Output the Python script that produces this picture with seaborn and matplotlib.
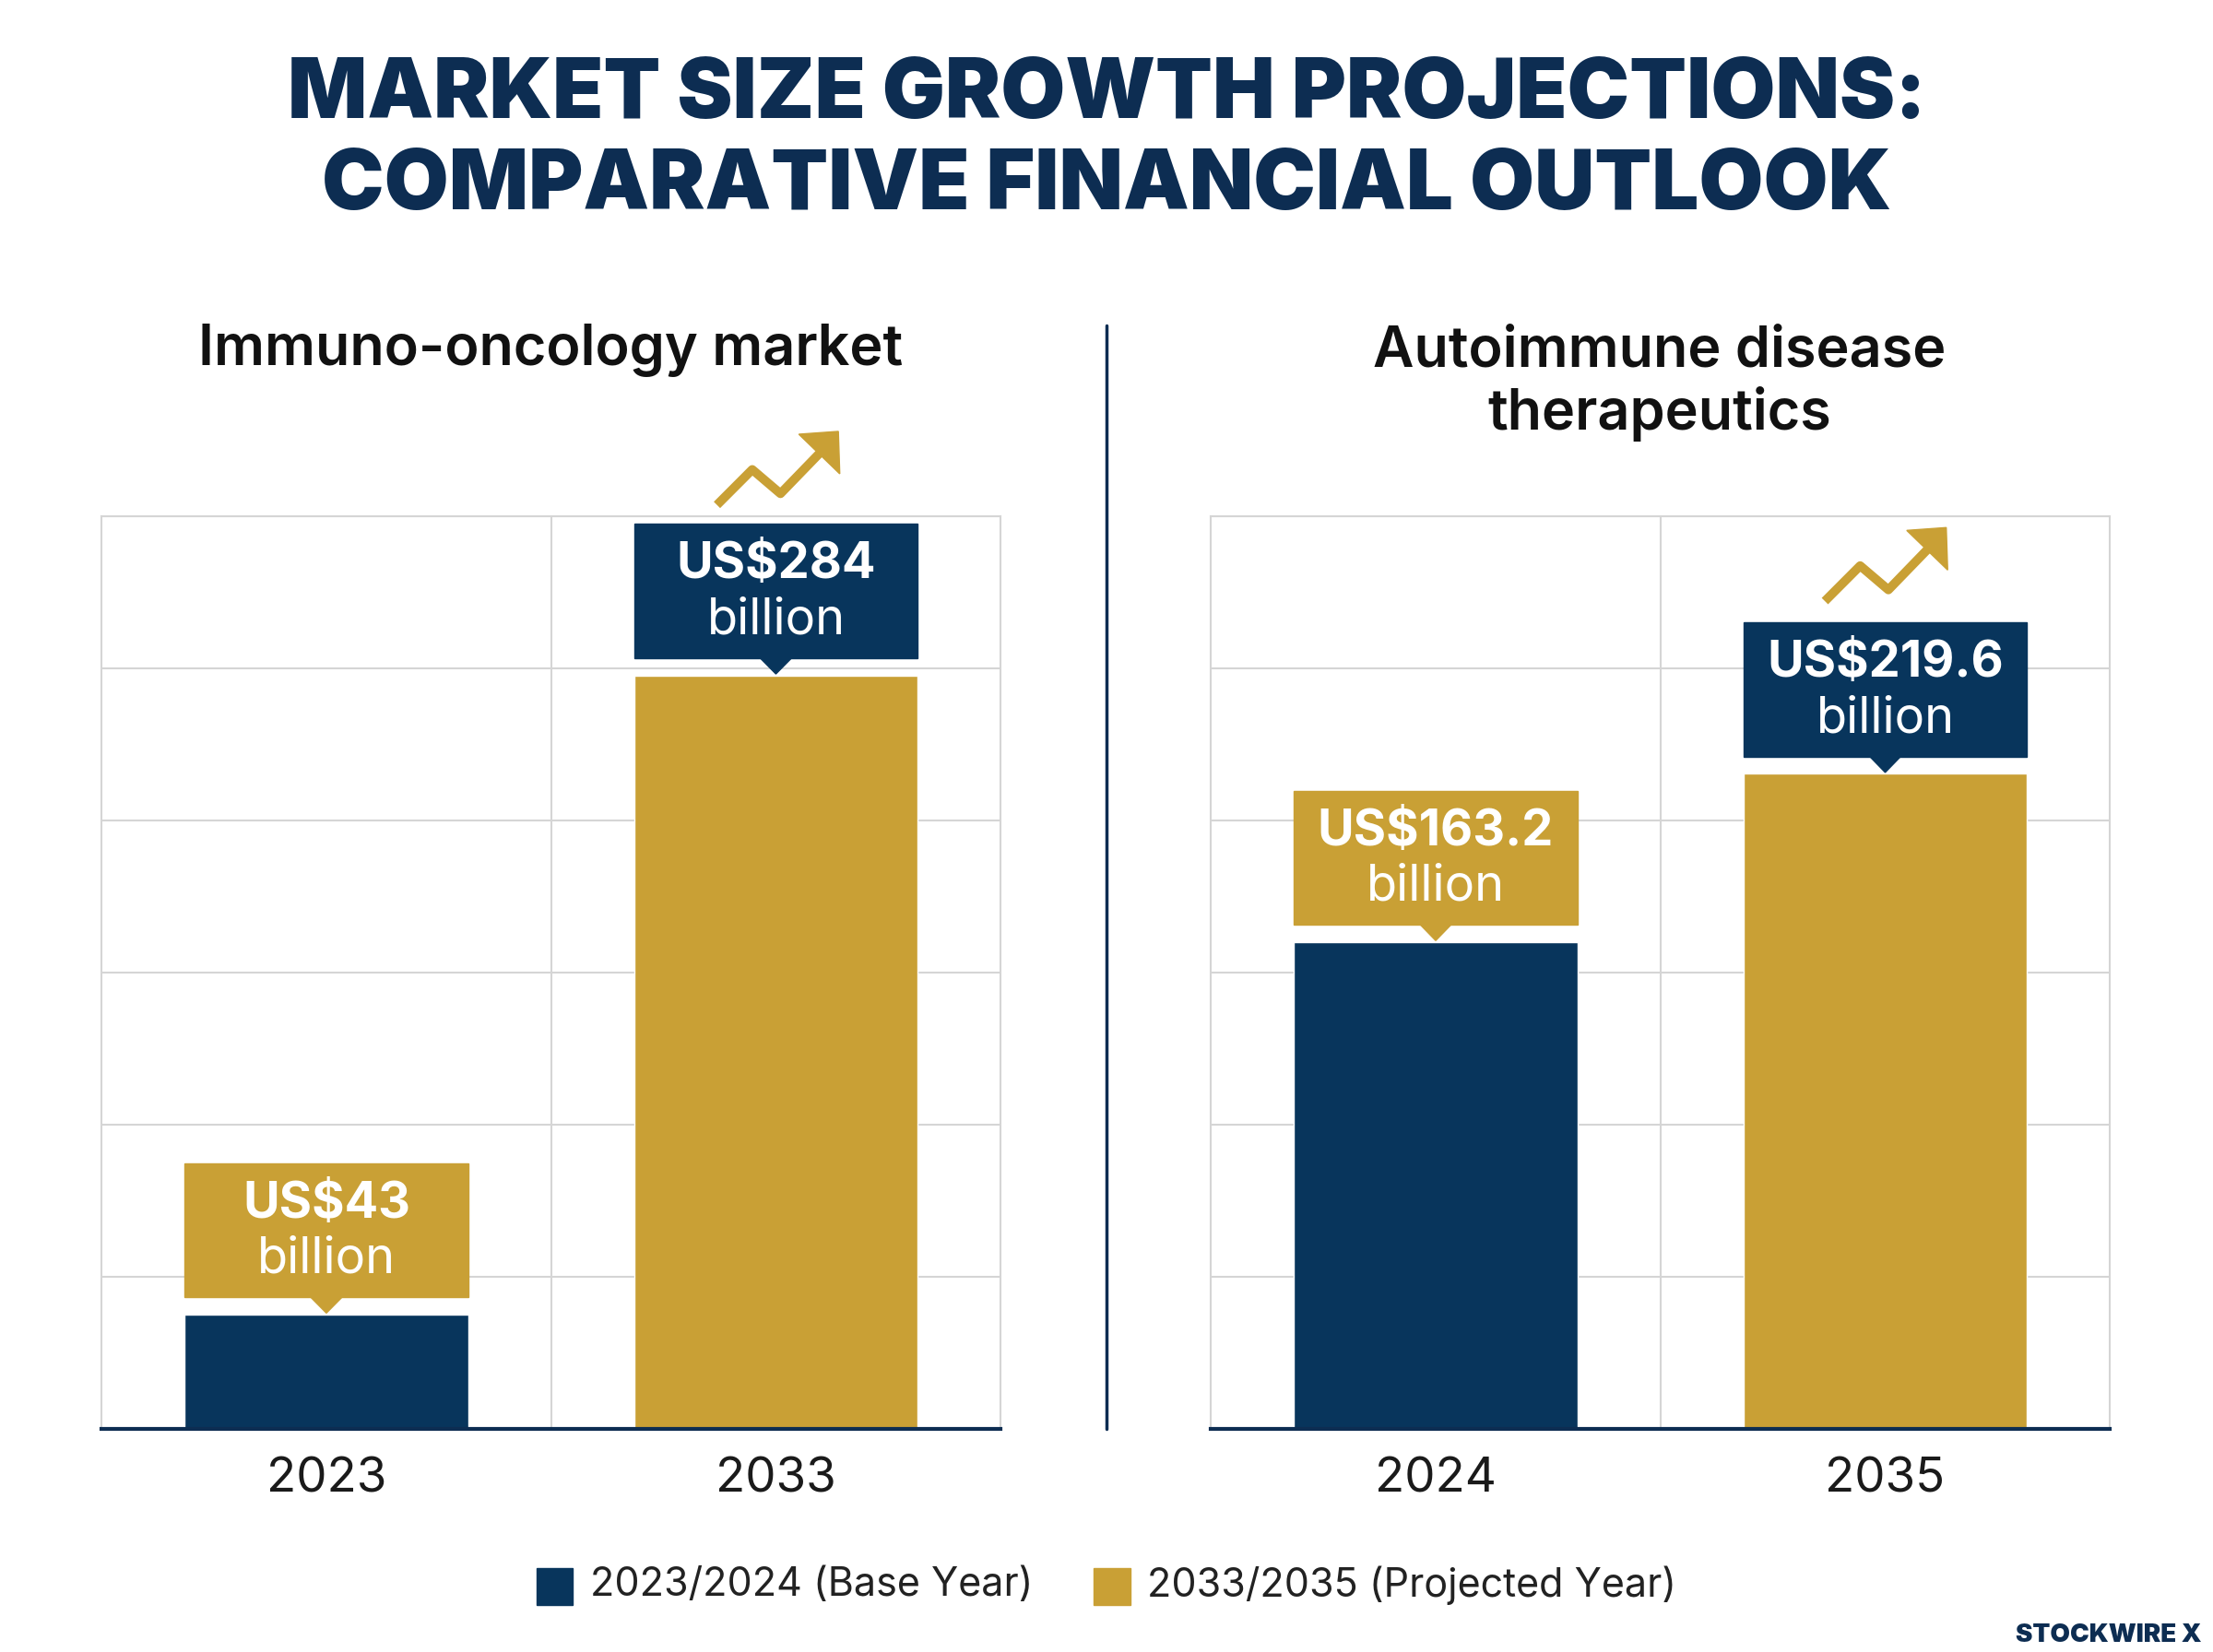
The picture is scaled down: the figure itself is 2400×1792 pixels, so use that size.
import matplotlib
matplotlib.use("Agg")
import matplotlib.pyplot as plt
import seaborn as sns
import pandas as pd
import numpy as np
from matplotlib.patches import Rectangle, Polygon

NAVY = "#08355c"
GOLD = "#c9a035"
TITLE = "#0d2d52"

left_years = ["2023", "2033"]
left_values = [43, 284]
left_labels = ["US$43\nbillion", "US$284\nbillion"]
right_years = ["2024", "2035"]
right_values = [163.2, 219.6]
right_labels = ["US$163.2\nbillion", "US$219.6\nbillion"]
panel_titles = ["Immuno-oncology market", "Autoimmune disease\ntherapeutics"]
legend_labels = ["2023/2024 (Base Year)", "2033/2035 (Projected Year)"]

sns.set_theme(style="white")
plt.rcParams["font.family"] = ["Inter", "DejaVu Sans"]

W, H = 1568, 1168
fig = plt.figure(figsize=(24, 17.92), dpi=100)

def fx(x): return x / W
def fy(y): return 1 - y / H

fig.text(0.5, fy(68), "MARKET SIZE GROWTH PROJECTIONS:", ha="center", va="center",
         fontsize=65, fontweight="black", color=TITLE)
fig.text(0.5, fy(132), "COMPARATIVE FINANCIAL OUTLOOK", ha="center", va="center",
         fontsize=65, fontweight="black", color=TITLE)

panels = [
    (72, left_years, left_values, left_labels, 344, panel_titles[0], 248, (508, 357)),
    (858, right_years, right_values, right_labels, 306, panel_titles[1], 271, (1293, 425)),
]
for x0, years, vals, labels, ymax, ptitle, ty, arrow in panels:
    ax = fig.add_axes([fx(x0), fy(1010), fx(637), 645 / H])
    df = pd.DataFrame({"year": years, "value": vals})
    sns.barplot(data=df, x="year", y="value", hue="year", palette=[NAVY, GOLD],
                width=0.63, ax=ax, legend=False, saturation=1)
    ax.set_xlim(-0.5, 1.5)
    ax.set_ylim(0, ymax)
    ax.set_yticks(np.linspace(0, ymax, 7))
    ax.set_yticklabels([])
    ax.set_xticks([0.5], minor=True)
    ax.grid(True, axis="y", color="#d5d5d5", lw=1.5)
    ax.grid(True, axis="x", which="minor", color="#d5d5d5", lw=1.5)
    ax.set_axisbelow(True)
    for s in ["top", "left", "right"]:
        ax.spines[s].set_color("#d5d5d5")
        ax.spines[s].set_linewidth(1.5)
    ax.spines["bottom"].set_color(TITLE)
    ax.spines["bottom"].set_linewidth(3)
    ax.set_xticks([0, 1])
    ax.set_xticklabels(years, fontsize=38, color="#1a1a1a")
    ax.tick_params(axis="x", length=0, pad=22)
    ax.tick_params(axis="y", length=0)
    ax.set_xlabel("")
    ax.set_ylabel("")
    u = ymax / 645  # data units per reference pixel
    for i, (v, lab) in enumerate(zip(vals, labels)):
        bc = GOLD if i == 0 else NAVY
        b0 = v + 12 * u
        ax.add_patch(Rectangle((i - 0.315, b0), 0.63, 95 * u, color=bc, clip_on=False, zorder=5))
        ax.add_patch(Polygon([[i - 0.04, b0 + 1], [i + 0.04, b0 + 1], [i, b0 - 11 * u]],
                             color=bc, clip_on=False, zorder=5))
        t1, t2 = lab.split("\n")
        ax.text(i, b0 + 66 * u, t1, ha="center", va="center", fontsize=39,
                fontweight="bold", color="white", zorder=6)
        ax.text(i, b0 + 27 * u, t2, ha="center", va="center", fontsize=39,
                color="white", zorder=6)
    fig.text(fx(x0 + 318), fy(ty), ptitle, ha="center", va="center", fontsize=44,
             fontweight="semibold", color="#111111", linespacing=1.2)
    # growth arrow icon
    axx, axy = arrow
    pts = np.array([[0, 0], [25, -25], [45, -8], [78, -42]])
    xs = [fx(axx + p[0]) for p in pts]
    ys = [fy(axy + p[1]) for p in pts]
    fig.add_artist(plt.Line2D(xs, ys, color=GOLD, lw=7, solid_capstyle="butt"))
    tip = (axx + 86, axy - 52)
    head = [[fx(tip[0]), fy(tip[1])], [fx(tip[0] - 28), fy(tip[1] + 2)], [fx(tip[0] + 1), fy(tip[1] + 30)]]
    fig.add_artist(Polygon(head, color=GOLD, transform=fig.transFigure))

fig.add_artist(plt.Line2D([fx(784), fx(784)], [fy(230), fy(1010)], color=TITLE, lw=2.5))

# legend
for xl, col, lab in [(380, NAVY, legend_labels[0]), (775, GOLD, legend_labels[1])]:
    fig.add_artist(Rectangle((fx(xl), fy(1135)), fx(26), 26 / H, color=col, transform=fig.transFigure))
    fig.text(fx(xl + 38), fy(1121), lab, ha="left", va="center", fontsize=31, color="#222222")

fig.text(fx(1560), fy(1156), "STOCKWIRE X", ha="right", va="center", fontsize=20,
         fontweight="black", color=TITLE)

fig.savefig("out.png", dpi=100, facecolor="white")
